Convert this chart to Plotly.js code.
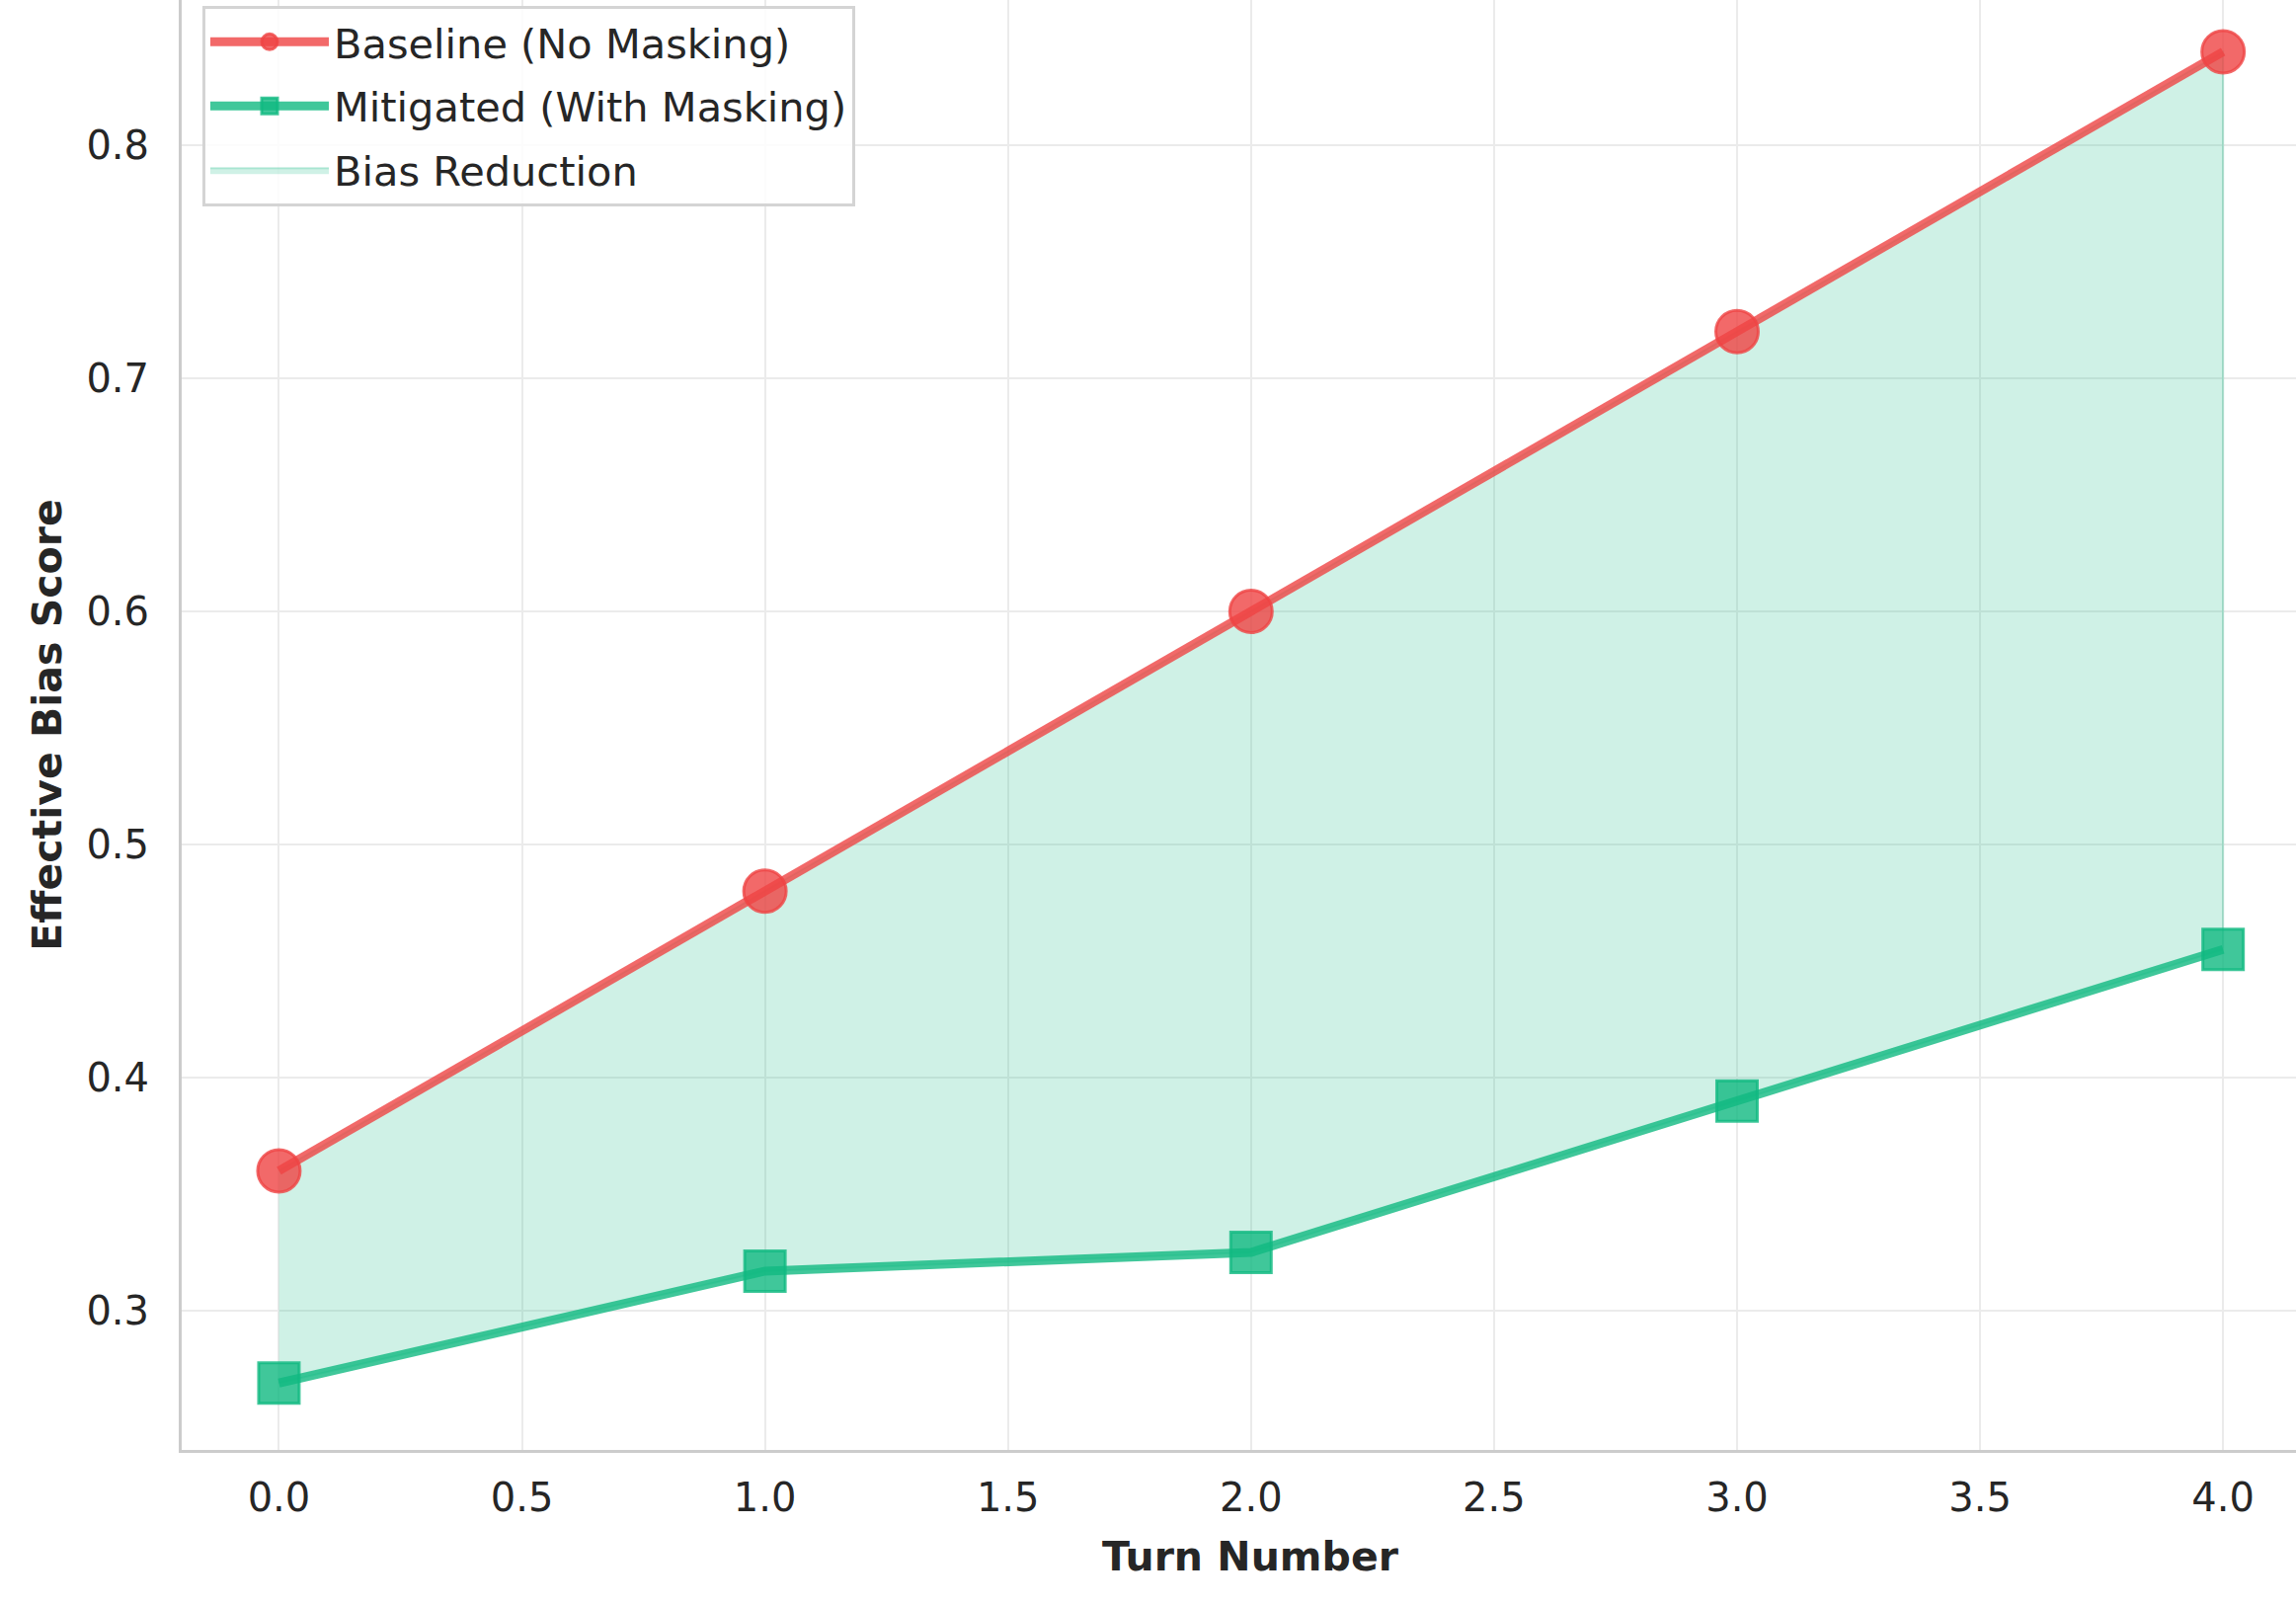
<!DOCTYPE html>
<html>
<head>
<meta charset="utf-8">
<script src="https://cdn.plot.ly/plotly-3.0.1.min.js"></script>
<style>
  html, body { margin: 0; padding: 0; background: #ffffff; }
  #chart { width: 2325px; height: 1626px; }
</style>
</head>
<body>
<div id="chart"></div>
<script>
const turns = [0, 1, 2, 3, 4];
const baseline = [0.36, 0.48, 0.60, 0.72, 0.84];
const mitigated = [0.269, 0.317, 0.325, 0.39, 0.455];
const seriesNames = ["Baseline (No Masking)", "Mitigated (With Masking)", "Bias Reduction"];
const xTitle = "Turn Number";
const yTitle = "Effective Bias Score";

const red = "rgba(239,68,68,0.8)";
const green = "rgba(16,185,129,0.8)";
const fillGreen = "rgba(16,185,129,0.2)";
const edgeGreen = "rgba(16,185,129,0.25)";

const fillX = turns.concat(turns.slice().reverse());
const fillY = baseline.concat(mitigated.slice().reverse());

const traces = [
  {
    x: fillX, y: fillY, type: "scatter", mode: "lines",
    fill: "toself", fillcolor: fillGreen,
    line: { color: edgeGreen, width: 2 },
    name: seriesNames[2], legendrank: 3, legendgroup: "c",
    hoverinfo: "skip"
  },
  {
    x: turns, y: baseline, type: "scatter", mode: "lines+markers",
    name: seriesNames[0], legendrank: 1, legendgroup: "a",
    line: { color: red, width: 9 },
    marker: { symbol: "circle", size: 43, color: red, line: { color: red, width: 3 } }
  },
  {
    x: turns, y: mitigated, type: "scatter", mode: "lines+markers",
    name: seriesNames[1], legendrank: 2, legendgroup: "b",
    line: { color: green, width: 9 },
    marker: { symbol: "square", size: 41, color: green, line: { color: green, width: 3 } }
  }
];

const font = "DejaVu Sans, Liberation Sans, sans-serif";

const layout = {
  width: 2325, height: 1626,
  paper_bgcolor: "#ffffff", plot_bgcolor: "#ffffff",
  margin: { l: 184, r: 0, t: 0, b: 158, pad: 0 },
  font: { family: font, color: "#262626", size: 40 },
  showlegend: true,
  legend: {
    x: 0.0098, y: 0.996, xanchor: "left", yanchor: "top",
    bgcolor: "rgba(255,255,255,0.85)", bordercolor: "#d4d4d4", borderwidth: 3,
    font: { family: font, size: 41.5, color: "#262626" },
    tracegroupgap: 8, itemwidth: 120
  },
  xaxis: {
    range: [-0.2, 4.15], dtick: 0.5, tick0: 0, tickformat: ".1f",
    showgrid: true, gridcolor: "#ebebeb", gridwidth: 2,
    zeroline: false, showline: true, linecolor: "#cccccc", linewidth: 3,
    ticks: "outside", ticklen: 11, tickcolor: "rgba(0,0,0,0)",
    tickfont: { family: font, size: 40, color: "#262626" }
  },
  yaxis: {
    range: [0.2403, 0.8622], dtick: 0.1, tick0: 0, tickformat: ".1f",
    showgrid: true, gridcolor: "#ebebeb", gridwidth: 2,
    zeroline: false, showline: true, linecolor: "#cccccc", linewidth: 3,
    ticks: "outside", ticklen: 22, tickcolor: "rgba(0,0,0,0)",
    tickfont: { family: font, size: 40, color: "#262626" },
    title: { text: "<b>" + yTitle + "</b>", font: { family: font, size: 41, color: "#262626" }, standoff: 13 }
  },
  annotations: [
    {
      text: "<b>" + xTitle + "</b>", x: 2.0, xref: "x", y: 1576, yref: "paper",
      showarrow: false, font: { family: font, size: 41, color: "#262626" },
      xanchor: "center", yanchor: "middle"
    }
  ]
};
// position x title annotation in paper coords (centre ~1576 px from top)
layout.annotations[0].y = -(1576 - 1468) / 1468;

Plotly.newPlot("chart", traces, layout, { displayModeBar: false, staticPlot: true });
</script>
</body>
</html>
